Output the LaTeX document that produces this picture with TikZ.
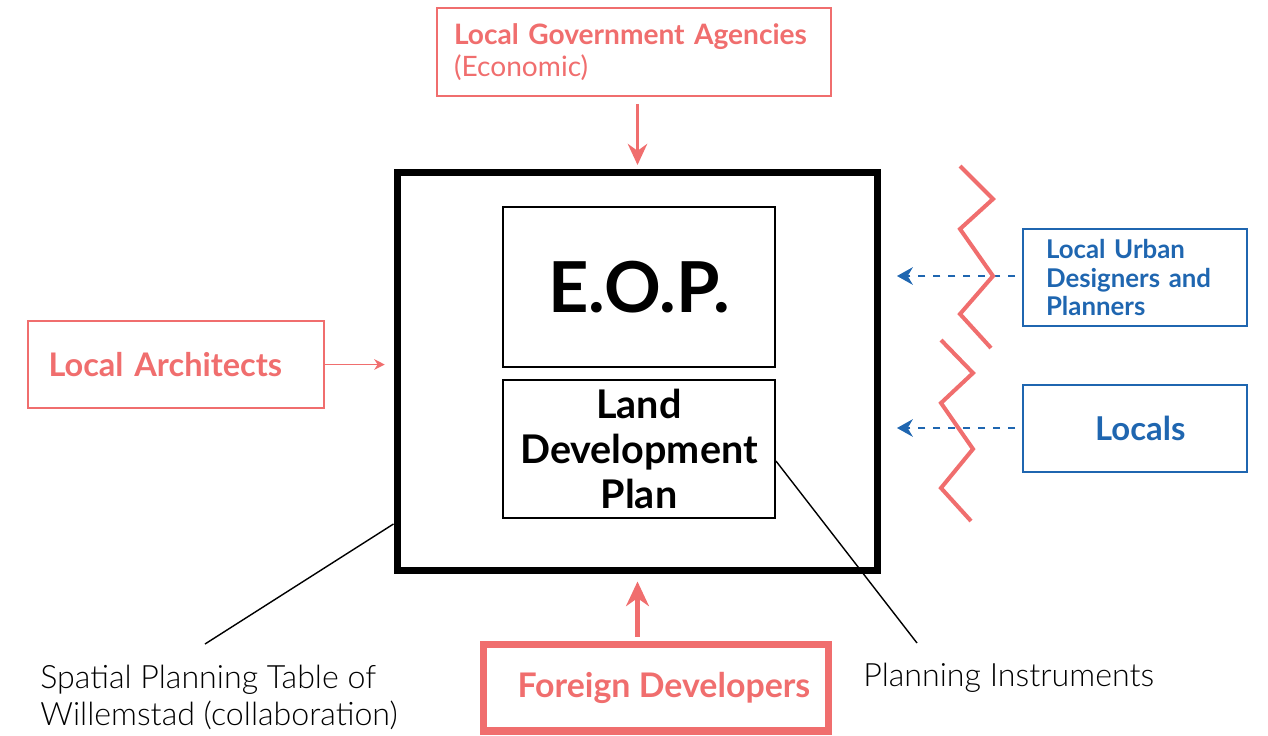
\documentclass[tikz,border=0pt]{standalone}
\usepackage{fontspec}
\setmainfont{Lato}
\newfontfamily\lightfont{Lato Light}
\usetikzlibrary{arrows.meta,calc}
\definecolor{salmon}{HTML}{F06E6E}
\definecolor{planblue}{HTML}{1F66B0}
\begin{document}
\begin{tikzpicture}[x=0.02cm,y=-0.02cm,>=Stealth]
	\tikzset{
		redbox/.style={draw=salmon,line width=1.1pt,text=salmon,font=\bfseries},
		bluebox/.style={draw=planblue,line width=1.1pt,text=planblue,font=\bfseries},
		blackbox/.style={draw=black,line width=1.1pt,font=\bfseries},
		dasharrow/.style={planblue,line width=1.1pt,dash pattern=on 4pt off 4.5pt,-{Stealth[length=9pt,width=10pt]}},
		zig/.style={salmon,line width=2.3pt},
		leader/.style={line width=0.8pt}
	}
	\useasboundingbox (0,0) rectangle (1268,735);
	% the frame
	\node[draw,line width=4pt,minimum width=9.62cm,minimum height=7.98cm] (bigbox) at (637.5,371.5) {};
	\node[blackbox,minimum width=5.44cm,minimum height=3.2cm,font=\fontsize{40}{42}\selectfont\bfseries] (eop) at (639,287) {E.O.P.};
	\node[blackbox,minimum width=5.44cm,minimum height=2.76cm,align=center,font=\fontsize{22.5}{25.5}\selectfont\bfseries] (ldp) at (639,449) {Land\\Development\\Plan};
	% actors
	\node[redbox,minimum width=7.88cm,minimum height=1.76cm,text width=7.2cm,align=left,font=\fontsize{16}{18}\selectfont] (gov) at (634,52) {\textbf{Local Government Agencies}\\(Economic)};
	\node[redbox,minimum width=5.92cm,minimum height=1.74cm,text width=5.1cm,align=left,font=\fontsize{18.5}{21}\selectfont\bfseries] (arch) at (176,364.5) {Local Architects};
	\node[redbox,line width=4pt,minimum width=6.9cm,minimum height=1.74cm,font=\fontsize{19.3}{22}\selectfont\bfseries] (foreign) at (656,687.5) {\hspace*{9pt}Foreign Developers};
	\node[bluebox,minimum width=4.48cm,minimum height=1.94cm,text width=3.56cm,align=left,font=\fontsize{14.7}{16.5}\selectfont\bfseries] (urban) at (1135,277.5) {Local Urban\\Designers and\\Planners};
	\node[bluebox,minimum width=4.48cm,minimum height=1.74cm,font=\fontsize{18.7}{21}\selectfont\bfseries] (locals) at (1135,428.5) {\hspace*{6pt}Locals};
	% labels
	\node[anchor=west,align=left,font=\fontsize{18.3}{21}\selectfont\lightfont,inner sep=0pt] (table) at (40,697) {Spatial Planning Table of\\Willemstad (collaboration)};
	\node[anchor=west,font=\fontsize{18.3}{21}\selectfont\lightfont,inner sep=0pt] (instr) at (863,678) {Planning Instruments};
	\coordinate (tableend) at (205,644);
	\coordinate (instrend) at (917,643);
	\coordinate (urbantip) at (897,276);
	\coordinate (localstip) at (897,428);
	% arrows
	\draw[salmon,line width=2pt,-{Stealth[length=12pt,width=11pt]}] ([yshift=-4pt]gov.south -| bigbox.north) -- ([yshift=2pt]bigbox.north);
	\draw[salmon,line width=2.8pt,-{Stealth[length=14pt,width=13pt]},shorten <=2pt,shorten >=4pt] (foreign.north -| bigbox.south) -- (bigbox.south);
	\draw[salmon,line width=0.9pt,-{Stealth[length=6pt,width=6pt]},shorten >=5pt] (arch.east) -- (arch.east -| bigbox.west);
	\draw[dasharrow] ([xshift=-4pt]urban.west |- urbantip) -- (urbantip);
	\draw[dasharrow] ([xshift=-4pt]locals.west |- localstip) -- (localstip);
	\draw[leader] (bigbox.212) -- (tableend);
	\draw[leader] (ldp.-5) -- (instrend);
	% walls
	\draw[zig,line join=miter] (960,166) -- (993,199) -- (960,229) -- (993,276) -- (960,314) -- (991,348);
	\draw[zig,line join=miter] (941,340) -- (973,373) -- (941,403) -- (973,449) -- (941,488) -- (971,521);
\end{tikzpicture}
\end{document}
